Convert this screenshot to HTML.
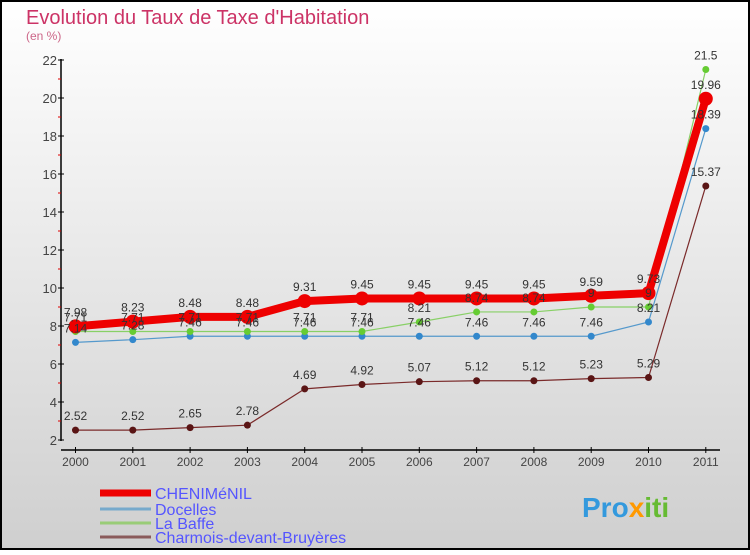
<!DOCTYPE html>
<html><head><meta charset="utf-8"><style>
html,body{margin:0;padding:0}
body{width:750px;height:550px;overflow:hidden;font-family:"Liberation Sans",sans-serif}
</style></head><body>
<svg id="c" width="750" height="550" xmlns="http://www.w3.org/2000/svg">
<defs><linearGradient id="bg" x1="0" y1="0" x2="0" y2="1"><stop offset="0" stop-color="#ffffff"/><stop offset="1" stop-color="#cfcfcf"/></linearGradient></defs>
<rect x="1" y="1" width="748" height="548" fill="url(#bg)" stroke="#000" stroke-width="2"/>
<text x="26" y="24" font-size="20" fill="#cc3366">Evolution du Taux de Taxe d'Habitation</text>
<text x="26" y="40" font-size="12" fill="#cc6688">(en %)</text>
<g id="axes"></g><g id="series"></g><g id="labels"></g><g id="legend"></g>
<text x="582" y="517" font-size="28" font-weight="bold" fill="#3399dd">Pro<tspan fill="#ff9900">x</tspan><tspan fill="#66bb33">iti</tspan></text>
</svg>
<script>
const years=[2000,2001,2002,2003,2004,2005,2006,2007,2008,2009,2010,2011];
const yTicks=[2,4,6,8,10,12,14,16,18,20,22];
const names=["CHENIMéNIL","Docelles","La Baffe","Charmois-devant-Bruyères"];
const chenimenil=[7.98,8.23,8.48,8.48,9.31,9.45,9.45,9.45,9.45,9.59,9.73,19.96];
const docelles=[7.14,7.28,7.46,7.46,7.46,7.46,7.46,7.46,7.46,7.46,8.21,18.39];
const labaffe=[7.71,7.71,7.71,7.71,7.71,7.71,8.21,8.74,8.74,9,9,21.5];
const charmois=[2.52,2.52,2.65,2.78,4.69,4.92,5.07,5.12,5.12,5.23,5.29,15.37];
const NS="http://www.w3.org/2000/svg";
const X=i=>75.5+i*57.3, Y=v=>440-(v-2)*19;
function mk(p,t,a){const e=document.createElementNS(NS,t);for(const k in a)e.setAttribute(k,a[k]);p.appendChild(e);return e;}
const ax=document.getElementById('axes');
let e=mk(ax,'line',{x1:61,y1:59,x2:61,y2:441,stroke:'#000','stroke-width':1.5});

e=mk(ax,'line',{x1:61,y1:450,x2:720,y2:450,stroke:'#000','stroke-width':1.5});

yTicks.forEach((t,i)=>{
 mk(ax,'line',{x1:58,x2:64,y1:Y(t),y2:Y(t),stroke:'#000'});
 if(i<yTicks.length-1) mk(ax,'line',{x1:58,x2:61,y1:Y(t+1),y2:Y(t+1),stroke:'#d00'});
 const l=mk(ax,'text',{x:57,y:Y(t)+5,'text-anchor':'end','font-size':13,fill:'#444'});l.textContent=t;
 
});
years.forEach((yr,i)=>{
 mk(ax,'line',{x1:X(i),x2:X(i),y1:447,y2:453,stroke:'#000'});
 const l=mk(ax,'text',{x:X(i),y:466,'text-anchor':'middle','font-size':12,fill:'#444'});l.textContent=yr;
 
});
const sg=document.getElementById('series'),lg=document.getElementById('labels');
const cfg=[[charmois,'#7a2a2a','#5a1515',1.2,3.5,'charmois'],[docelles,'#5599cc','#3388cc',1.2,3.5,'docelles'],[labaffe,'#88d066','#66cc33',1.2,3.5,'la-baffe'],[chenimenil,'#ee0000','#ee0000',8,7,'chenimenil']];
cfg.forEach(([d,lc,pc,w,r,n])=>{
 const p=mk(sg,'polyline',{points:d.map((v,i)=>X(i)+','+Y(v)).join(' '),fill:'none',stroke:lc,'stroke-width':w,'stroke-linejoin':'round'});
 
 d.forEach((v,i)=>{
  const c=mk(sg,'circle',{cx:X(i),cy:Y(v),r:r,fill:pc});
  
  const t=mk(lg,'text',{x:X(i),y:Y(v)-10,'text-anchor':'middle','font-size':12,fill:'#333'});t.textContent=v;
  
 });
});
const leg=document.getElementById('legend');
const lcol=['#ee0000','#77aacc','#99cc77','#8a5a5a'],lw=[7,3,3,3],ly=[493,509,523,537];
names.forEach((n,i)=>{
 const g=mk(leg,'g',{});
 
 mk(g,'line',{x1:100,x2:151,y1:ly[i],y2:ly[i],stroke:lcol[i],'stroke-width':lw[i]});
 const t=mk(g,'text',{x:155,y:ly[i]+6,'font-size':16,fill:'#5555ff'});t.textContent=n;
});
</script>
</body></html>
